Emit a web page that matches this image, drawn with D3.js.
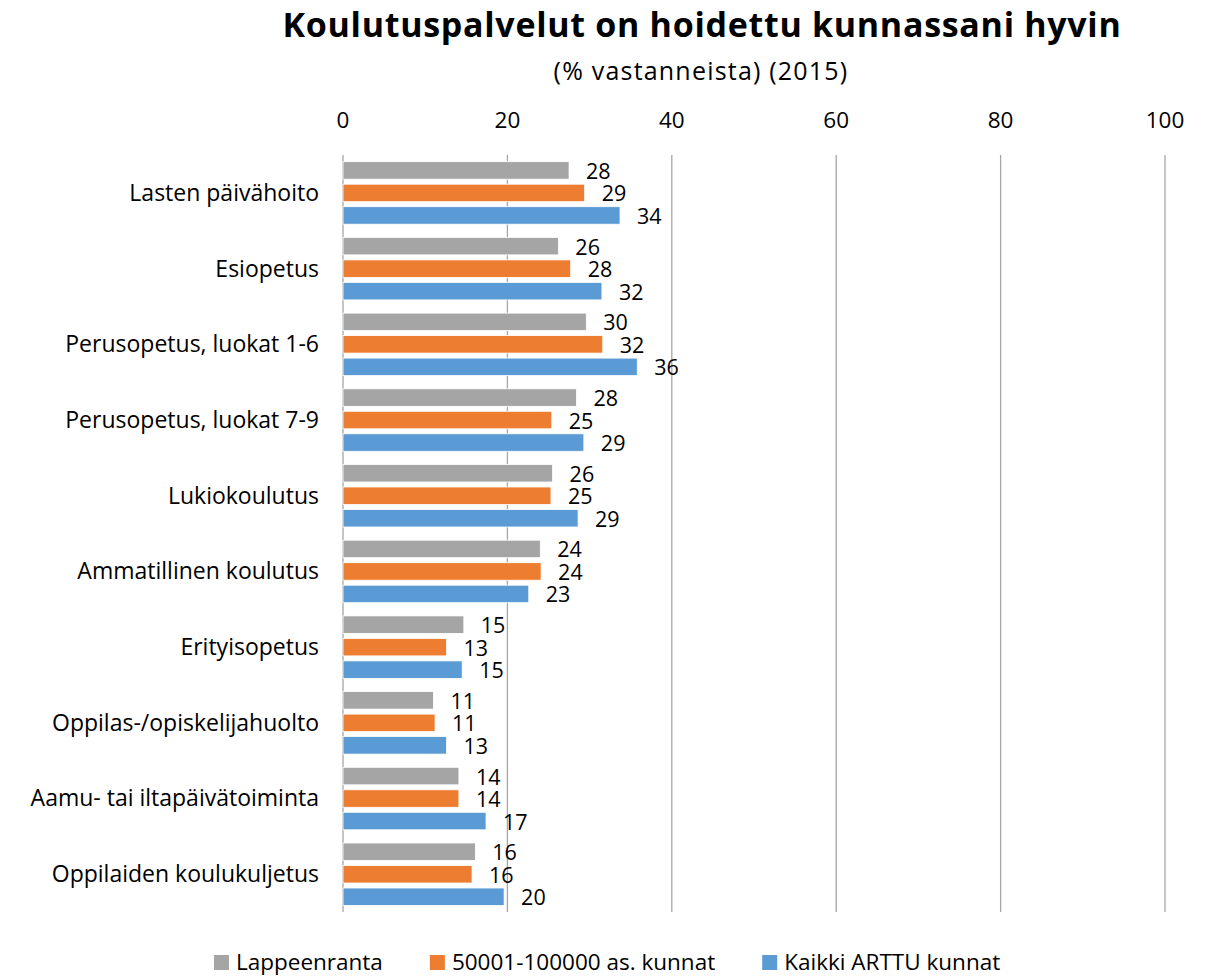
<!DOCTYPE html>
<html>
<head>
<meta charset="utf-8">
<script src="https://cdn.jsdelivr.net/npm/d3@7"></script>
<style>
  body { margin: 0; background: #fff; }
  text { font-family: "Open Sans", sans-serif; fill: #000; }
</style>
</head>
<body>
<svg id="chart" width="1218" height="977"></svg>
<script>
const categories = [
  "Lasten päivähoito", "Esiopetus", "Perusopetus, luokat 1-6", "Perusopetus, luokat 7-9",
  "Lukiokoulutus", "Ammatillinen koulutus", "Erityisopetus", "Oppilas-/opiskelijahuolto",
  "Aamu- tai iltapäivätoiminta", "Oppilaiden koulukuljetus"
];
const seriesNames = ["Lappeenranta", "50001-100000 as. kunnat", "Kaikki ARTTU kunnat"];
const colors = ["#A5A5A5", "#ED7D31", "#5B9BD5"];
const lappeenranta = [27.5, 26.2, 29.6, 28.4, 25.5, 24.0, 14.7, 11.0, 14.1, 16.1];
const kunnat50 =     [29.4, 27.7, 31.6, 25.4, 25.3, 24.1, 12.6, 11.2, 14.1, 15.7];
const arttu =        [33.7, 31.5, 35.8, 29.3, 28.6, 22.6, 14.5, 12.6, 17.4, 19.6];
const ticks = [0, 20, 40, 60, 80, 100];

const seriesValues = [lappeenranta, kunnat50, arttu];

const svg = d3.select("#chart");
const plotLeft = 343, plotRight = 1165, plotTop = 155, plotBottom = 912;

const x = d3.scaleLinear().domain([0, 100]).range([plotLeft, plotRight]);
const y0 = d3.scaleBand().domain(categories).range([plotTop, plotBottom]);
const y1 = d3.scaleBand().domain(seriesNames)
    .range([4.2, 4.2 + 67.5]).paddingInner(0.222).paddingOuter(0.111);

// title
svg.append("text")
    .attr("x", 702).attr("y", 37)
    .attr("text-anchor", "middle")
    .style("font-size", "34px").style("font-weight", "bold")
    .style("letter-spacing", "0.7px")
    .text("Koulutuspalvelut on hoidettu kunnassani hyvin");
svg.append("text")
    .attr("x", 701).attr("y", 80)
    .attr("text-anchor", "middle")
    .style("font-size", "25px")
    .style("letter-spacing", "1.2px")
    .text("(% vastanneista) (2015)");

// gridlines
svg.append("g")
  .selectAll("line")
  .data(ticks)
  .join("line")
    .attr("x1", d => x(d)).attr("x2", d => x(d))
    .attr("y1", plotTop).attr("y2", plotBottom)
    .attr("stroke", "#A6A6A6").attr("stroke-width", 1.3);

// top axis labels
svg.append("g")
  .selectAll("text")
  .data(ticks)
  .join("text")
    .attr("x", d => x(d)).attr("y", 128)
    .attr("text-anchor", "middle")
    .style("font-size", "22.5px")
    .text(d => d);

// category labels
svg.append("g")
  .selectAll("text")
  .data(categories)
  .join("text")
    .attr("x", 319)
    .attr("y", d => y0(d) + y0.bandwidth() / 2 + 8)
    .attr("text-anchor", "end")
    .style("font-size", "23px")
    .text(d => d);

// bars
const groups = svg.append("g")
  .selectAll("g")
  .data(categories)
  .join("g")
    .attr("transform", d => `translate(0,${y0(d)})`);

groups.each(function(cat, i) {
  const g = d3.select(this);
  const rows = seriesNames.map((s, j) => ({ s, j, v: seriesValues[j][i] }));
  g.selectAll("rect")
    .data(rows)
    .join("rect")
      .attr("x", x(0))
      .attr("y", d => y1(d.s))
      .attr("width", d => x(d.v) - x(0))
      .attr("height", y1.bandwidth())
      .attr("fill", d => colors[d.j])
      .attr("stroke", "#fff").attr("stroke-width", 0.8);
  g.selectAll("text")
    .data(rows)
    .join("text")
      .attr("x", d => x(d.v) + 17)
      .attr("y", d => y1(d.s) + y1.bandwidth() / 2 + 8.5)
      .style("font-size", "21.5px")
      .text(d => Math.round(d.v));
});

// legend
const legend = svg.append("g").attr("transform", "translate(214,970)");
const items = legend.selectAll("g")
  .data(seriesNames)
  .join("g");
items.append("rect")
    .attr("x", 0).attr("y", -15)
    .attr("width", 15).attr("height", 15)
    .attr("fill", (d, i) => colors[i]);
items.append("text")
    .attr("x", 22).attr("y", 0)
    .style("font-size", "22.5px")
    .text(d => d);
let widths = [];
items.each(function() { widths.push(this.getBBox().width); });
const gap = 47;
let lx = 0;
items.attr("transform", (d, i) => {
  const t = `translate(${lx},0)`;
  lx += widths[i] + gap;
  return t;
});
</script>
</body>
</html>
